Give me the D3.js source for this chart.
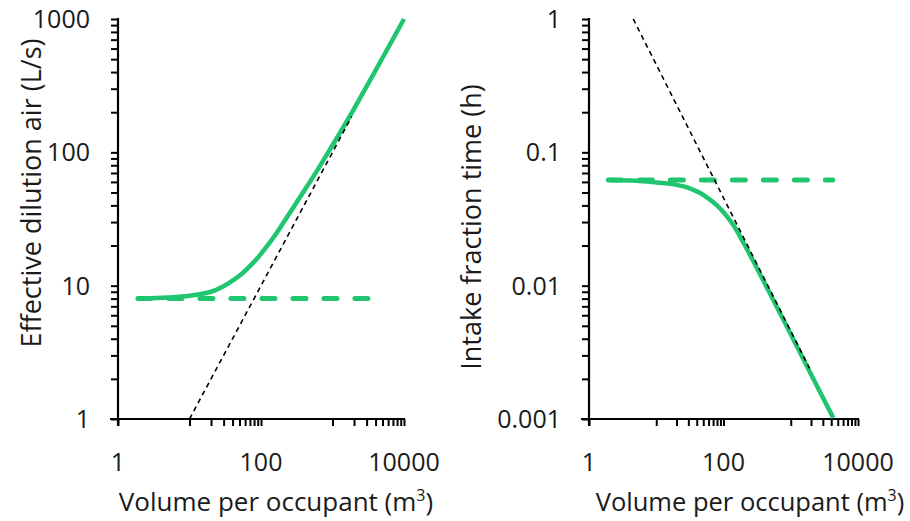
<!DOCTYPE html>
<html><head><meta charset="utf-8">
<script src="https://cdn.jsdelivr.net/npm/d3@7"></script>
<style>
html,body{margin:0;padding:0;background:#fff;}
text{font-family:"Open Sans","Noto Sans",sans-serif;fill:#1a1a1a;}
</style></head>
<body><svg id="c" width="910" height="521"></svg>
<script>
// ---------- data ----------
const xTickLabels = [1, 100, 10000];
const leftYTickLabels = [1, 10, 100, 1000];
const rightYTickLabels = [0.001, 0.01, 0.1, 1];

// Left panel: effective dilution air (L/s) vs volume per occupant (m3)
const leftCurveV   = [2, 5, 10, 20, 30, 40, 55, 70, 90, 120, 160, 200, 350, 600, 1000, 2000, 3300, 5000, 10000];
const leftCurveQ   = [8.0, 8.15, 8.4, 9.0, 9.9, 10.9, 12.4, 14.0, 16.2, 19.6, 24.2, 29.0, 46, 72, 113, 212, 342, 510, 1000];
const leftFlatV    = [1.9, 3300];
const leftFlatQ    = [8, 8];
const leftAsymV    = [10, 1850];
const leftAsymQ    = [1, 185];

// Right panel: intake fraction time (h) vs volume per occupant (m3)
const rightCurveV  = [2, 5, 10, 15, 20, 28, 35, 45, 60, 80, 100, 140, 200, 310, 550, 970, 1700, 3000, 4300];
const rightCurveT  = [0.0620, 0.0612, 0.0595, 0.0584, 0.0570, 0.0548, 0.0525, 0.0495, 0.0450, 0.0400, 0.0355, 0.0285, 0.0208, 0.0137, 0.0078, 0.00446, 0.00255, 0.00145, 0.00102];
const rightFlatV   = [1.94, 4200];
const rightFlatT   = [0.062, 0.062];
const rightAsymV   = [4.55, 1900];
const rightAsymT   = [1, 0.0024];

// ---------- drawing ----------
const GREEN = "#1fc66f";
const svg = d3.select("#c");

function zip(a, b){ return a.map((v,i)=>[v,b[i]]); }

function panel(opts){
  const x = d3.scaleLog().domain([1,10000]).range([opts.x0, opts.x1]);
  const y = d3.scaleLog().domain(opts.yDomain).range([419, 19]);
  const g = svg.append("g");

  // x ticks: 1, 10..100 and 1000..10000
  const xTicks = [1];
  [10, 1000].forEach(b => { for (let k=1;k<=10;k++) xTicks.push(b*k); });
  const xAxis = d3.axisBottom(x).tickValues(xTicks).tickSize(7).tickFormat("");
  const xa = g.append("g").attr("transform","translate(0,419)").call(xAxis);
  xa.select(".domain").remove();
  xa.selectAll("line").attr("stroke","#000").attr("stroke-width",2);
  g.append("line").attr("x1",opts.x0-8).attr("x2",opts.x1+1).attr("y1",419).attr("y2",419)
    .attr("stroke","#000").attr("stroke-width",2.2);

  // y ticks: every 1..9 of each decade
  const yTicks = [];
  const [lo, hi] = opts.yDomain;
  for (let e = Math.round(Math.log10(lo)); e < Math.round(Math.log10(hi)); e++){
    for (let k=1;k<10;k++) yTicks.push(k*Math.pow(10,e));
  }
  yTicks.push(hi);
  const yAxis = d3.axisLeft(y).tickValues(yTicks).tickSize(7).tickFormat("");
  const ya = g.append("g").attr("transform",`translate(${opts.x0},0)`).call(yAxis);
  ya.select(".domain").remove();
  ya.selectAll("line").attr("stroke","#000").attr("stroke-width",2);
  g.append("line").attr("x1",opts.x0).attr("x2",opts.x0).attr("y1",18).attr("y2",426)
    .attr("stroke","#000").attr("stroke-width",2.2);

  // tick labels
  g.selectAll(".xl").data(xTickLabels).enter().append("text")
    .attr("x", d=>x(d)).attr("y", 471).attr("text-anchor","middle")
    .attr("font-size",25).text(d=>d);
  g.selectAll(".yl").data(opts.yLabels).enter().append("text")
    .attr("x", opts.x0-28).attr("y", d=>y(d)).attr("dy","0.36em").attr("text-anchor","end")
    .attr("font-size",25).text(d=>d);

  // axis titles
  const xt = g.append("text").attr("x", opts.xTitleX).attr("y", 511).attr("text-anchor","middle").attr("font-size",opts.xTitleSize);
  xt.append("tspan").text("Volume per occupant (m");
  xt.append("tspan").attr("dy",-10).attr("font-size",16).text("3");
  xt.append("tspan").attr("dy",10).text(")");
  g.append("text").attr("transform",`translate(${opts.yTitleX},${opts.yTitleY}) rotate(-90)`)
    .attr("text-anchor","middle").attr("font-size",27).text(opts.yTitle);

  const line = d3.line().x(d=>x(d[0])).y(d=>y(d[1]));
  const smooth = d3.line().x(d=>x(d[0])).y(d=>y(d[1])).curve(d3.curveCatmullRom.alpha(0.5));

  g.append("path").attr("d", line(opts.flat)).attr("fill","none")
    .attr("stroke",GREEN).attr("stroke-width",5).attr("stroke-dasharray","13,18").attr("stroke-linecap","round");
  g.append("path").attr("d", smooth(opts.curve)).attr("fill","none")
    .attr("stroke",GREEN).attr("stroke-width",4.5);
  g.append("path").attr("d", line(opts.asym)).attr("fill","none")
    .attr("stroke","#000").attr("stroke-width",1.6).attr("stroke-dasharray","5,4");
}

panel({
  x0:118, x1:404, yDomain:[1,1000], yLabels:leftYTickLabels,
  xTitleX: 276, xTitleSize: 26, yTitleX: 41, yTitleY: 193, yTitle: "Effective dilution air (L/s)",
  curve: zip(leftCurveV, leftCurveQ), flat: zip(leftFlatV, leftFlatQ), asym: zip(leftAsymV, leftAsymQ)
});
panel({
  x0:589, x1:858, yDomain:[0.001,1], yLabels:rightYTickLabels,
  xTitleX: 750, xTitleSize: 25.5, yTitleX: 481, yTitleY: 227, yTitle: "Intake fraction time (h)",
  curve: zip(rightCurveV, rightCurveT), flat: zip(rightFlatV, rightFlatT), asym: zip(rightAsymV, rightAsymT)
});
</script></body></html>
